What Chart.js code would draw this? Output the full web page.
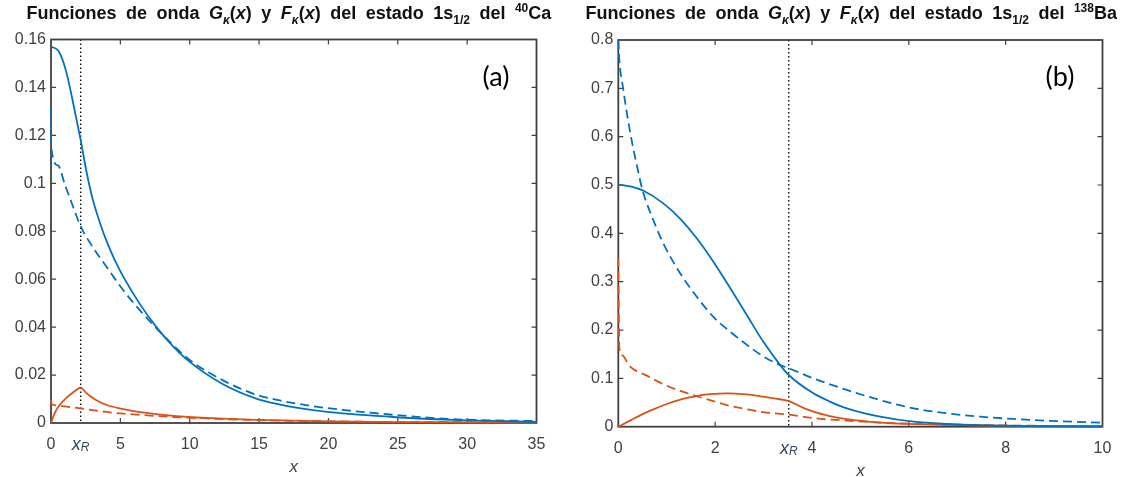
<!DOCTYPE html>
<html><head><meta charset="utf-8">
<script src="https://cdn.jsdelivr.net/npm/chart.js@4.4.1/dist/chart.umd.min.js"></script>
<style>
html,body{margin:0;padding:0;background:#fff;}
#wrap{position:relative;width:1143px;height:477px;overflow:hidden;background:#fff;}
canvas{position:absolute;top:0;}
#cA{left:0;} #cB{left:570px;}
.title{position:absolute;top:3px;font-family:"Liberation Sans",Arial,sans-serif;font-weight:bold;font-size:18px;white-space:nowrap;color:#111;word-spacing:4.5px;}
.title sub,.title sup{font-size:12px;line-height:0;}
</style></head>
<body><div id="wrap">
<canvas id="cA" width="570" height="477"></canvas>
<canvas id="cB" width="573" height="477"></canvas>
<div class="title" id="tA">Funciones de onda <i>G</i><sub><i>κ</i></sub>(<i>x</i>) y <i>F</i><sub><i>κ</i></sub>(<i>x</i>) del estado 1s<sub>1/2</sub> del <sup>40</sup>Ca</div>
<div class="title" id="tB">Funciones de onda <i>G</i><sub><i>κ</i></sub>(<i>x</i>) y <i>F</i><sub><i>κ</i></sub>(<i>x</i>) del estado 1s<sub>1/2</sub> del <sup>138</sup>Ba</div>
</div>
<script>
// ---------- Panel (a): 40Ca ----------
const caXR = 2.14;
const caXTicks = [0, 5, 10, 15, 20, 25, 30, 35];
const caYTicks = [0, 0.02, 0.04, 0.06, 0.08, 0.1, 0.12, 0.14, 0.16];
const caGSolidX = [0, 0.5, 0.8, 1.1, 1.4, 1.7, 2.14, 2.57, 3.0, 3.5, 4.0, 4.6, 5.2, 6.4, 7.6, 8.8, 10, 12.4, 14.8, 16.5, 17.9, 20.1, 24.9, 29, 35];
const caGSolidY = [0.157, 0.1555, 0.152, 0.1465, 0.139, 0.1305, 0.118, 0.1045, 0.0935, 0.0840, 0.0760, 0.0680, 0.0612, 0.0497, 0.0400, 0.0320, 0.0255, 0.0162, 0.0102, 0.0077, 0.0062, 0.0045, 0.0024, 0.0013, 0.0005];
const caGDashX = [0, 0.01, 0.5, 1.0, 1.5, 2.14, 3.0, 4.0, 5.2, 6.4, 7.6, 8.8, 10, 12.4, 14.8, 16.5, 17.9, 20.1, 24.9, 29, 35];
const caGDashY = [0.132, 0.1155, 0.1075, 0.0995, 0.0917, 0.082, 0.0735, 0.0652, 0.0555, 0.0471, 0.0395, 0.0325, 0.0263, 0.0178, 0.0118, 0.0094, 0.0079, 0.0061, 0.0033, 0.0016, 0.0008];
const caFSolidX = [0, 0.3, 0.65, 1.13, 1.61, 2.14, 2.5, 2.81, 3.3, 4.01, 5.21, 6.41, 8.81, 11.2, 14.8, 20, 25, 30, 35];
const caFSolidY = [0, 0.0045, 0.0077, 0.0106, 0.0128, 0.0148, 0.0128, 0.0113, 0.0094, 0.0075, 0.0058, 0.0045, 0.003, 0.0021, 0.0013, 0.0007, 0.0004, 0.0003, 0.0002];
const caFDashX = [0, 0.05, 0.5, 1, 2.14, 3, 4, 5, 6.4, 8.8, 11.2, 15, 20, 25, 30, 35];
const caFDashY = [0.0096, 0.0078, 0.0073, 0.0069, 0.0061, 0.0054, 0.0046, 0.004, 0.0034, 0.0025, 0.0019, 0.0012, 0.0007, 0.0004, 0.0003, 0.0002];

// ---------- Panel (b): 138Ba ----------
const baXR = 3.52;
const baXTicks = [0, 2, 4, 6, 8, 10];
const baYTicks = [0, 0.1, 0.2, 0.3, 0.4, 0.5, 0.6, 0.7, 0.8];
const baGSolidX = [0, 0.25, 0.52, 0.93, 1.28, 1.62, 1.96, 2.31, 2.66, 3.0, 3.34, 3.52, 4.03, 4.37, 4.72, 5.41, 6.1, 6.79, 7.48, 8.5, 10];
const baGSolidY = [0.501, 0.497, 0.488, 0.462, 0.430, 0.390, 0.342, 0.287, 0.230, 0.175, 0.128, 0.107, 0.069, 0.052, 0.038, 0.0207, 0.0103, 0.0056, 0.003, 0.0012, 0.0004];
const baGDashX = [0, 0.02, 0.1, 0.2, 0.3, 0.4, 0.5, 0.59, 0.76, 0.93, 1.28, 1.62, 1.96, 2.31, 2.66, 3.0, 3.34, 3.52, 4.03, 4.72, 5.41, 6.1, 6.79, 7.48, 8.17, 8.86, 10];
const baGDashY = [0.8, 0.76, 0.70, 0.635, 0.58, 0.533, 0.489, 0.462, 0.418, 0.379, 0.317, 0.269, 0.2275, 0.1965, 0.169, 0.145, 0.1276, 0.121, 0.100, 0.076, 0.055, 0.038, 0.0277, 0.0207, 0.016, 0.0124, 0.0083];
const baFSolidX = [0, 0.25, 0.5, 0.75, 1.0, 1.25, 1.5, 1.75, 2.0, 2.25, 2.5, 2.75, 3.0, 3.25, 3.52, 3.8, 4.03, 4.37, 4.72, 5.41, 6.1, 6.8, 7.5, 8.5, 10];
const baFSolidY = [0, 0.013, 0.026, 0.037, 0.047, 0.055, 0.061, 0.066, 0.068, 0.069, 0.068, 0.066, 0.062, 0.058, 0.053, 0.040, 0.031, 0.022, 0.0155, 0.0085, 0.0055, 0.0037, 0.0024, 0.0014, 0.0008];
const baFDashX = [0, 0.02, 0.08, 0.24, 0.59, 0.93, 1.28, 1.62, 1.96, 2.31, 2.66, 3.0, 3.52, 4.03, 4.72, 5.41, 6.1, 7, 8, 9, 10];
const baFDashY = [0.35, 0.165, 0.148, 0.125, 0.1056, 0.088, 0.074, 0.063, 0.053, 0.043, 0.036, 0.030, 0.025, 0.0178, 0.0124, 0.0085, 0.006, 0.004, 0.0025, 0.0017, 0.0012];

const BLUE = '#0072BD', ORANGE = '#D95319', AXIS = '#404040';
const FONT = '"Liberation Sans", Arial, sans-serif';
Chart.defaults.font.family = FONT;

function pts(xs, ys) { return xs.map((x, i) => ({ x: x, y: ys[i] })); }
function ds(xs, ys, color, dashed) {
  return { data: pts(xs, ys), borderColor: color, backgroundColor: color, borderWidth: 1.8,
    borderDash: dashed ? [9, 5] : [], pointRadius: 0, pointHoverRadius: 0, fill: false,
    showLine: true, cubicInterpolationMode: 'monotone', clip: false };
}

function framePlugin(p) {
  return {
    id: 'frame' + p.key,
    beforeDatasetsDraw(chart) {
      const { ctx, chartArea: a, scales: { x, y } } = chart;
      ctx.save();
      const xr = x.getPixelForValue(p.xR);
      ctx.strokeStyle = '#000'; ctx.lineWidth = 1.3; ctx.setLineDash([1.5, 2.5]);
      ctx.beginPath(); ctx.moveTo(xr, a.top); ctx.lineTo(xr, a.bottom); ctx.stroke();
      ctx.setLineDash([]);
      ctx.strokeStyle = AXIS; ctx.lineWidth = 1.2;
      ctx.beginPath();
      p.xTicks.forEach(v => {
        const px = x.getPixelForValue(v);
        if (px <= a.left + 1 || px >= a.right - 1) return;
        ctx.moveTo(px, a.bottom); ctx.lineTo(px, a.bottom - 5);
        ctx.moveTo(px, a.top); ctx.lineTo(px, a.top + 5);
      });
      p.yTicks.forEach(v => {
        const py = y.getPixelForValue(v);
        if (py <= a.top + 1 || py >= a.bottom - 1) return;
        ctx.moveTo(a.left, py); ctx.lineTo(a.left + 5, py);
        ctx.moveTo(a.right, py); ctx.lineTo(a.right - 5, py);
      });
      ctx.stroke();
      ctx.lineWidth = 1.8;
      ctx.strokeRect(a.left, a.top, a.right - a.left, a.bottom - a.top);
      ctx.restore();
    },
    afterDraw(chart) {
      const { ctx, chartArea: a, scales: { x } } = chart;
      ctx.save();
      const xr = x.getPixelForValue(p.xR);
      const base = a.bottom + 27;
      ctx.fillStyle = '#2f4560';
      ctx.font = 'italic 18px ' + FONT;
      const wx = ctx.measureText('x').width;
      ctx.font = 'italic 12px ' + FONT;
      const wr = ctx.measureText('R').width;
      const x0 = xr - (wx + wr) / 2;
      ctx.textBaseline = 'alphabetic'; ctx.textAlign = 'left';
      ctx.font = 'italic 18px ' + FONT;
      ctx.fillText('x', x0, base);
      ctx.font = 'italic 12px ' + FONT;
      ctx.fillText('R', x0 + wx, base + 1);
      ctx.fillStyle = AXIS;
      ctx.font = 'italic 17px ' + FONT;
      ctx.textAlign = 'center';
      ctx.fillText('x', (a.left + a.right) / 2, a.bottom + 49);
      ctx.fillStyle = '#000';
      ctx.font = '27px Lato, "Open Sans", sans-serif';
      ctx.textBaseline = 'middle';
      ctx.fillText(p.label, p.labelX, p.labelY);
      ctx.restore();
    }
  };
}

function makeChart(id, p) {
  return new Chart(document.getElementById(id), {
    type: 'scatter',
    data: { datasets: p.datasets },
    options: {
      responsive: false, animation: false, devicePixelRatio: 1,
      layout: { padding: { left: 0, right: p.padRight, top: p.padTop, bottom: 0 } },
      plugins: { legend: { display: false }, tooltip: { enabled: false }, title: { display: false } },
      scales: {
        x: {
          type: 'linear', min: p.xMin, max: p.xMax,
          grid: { display: false, drawTicks: false }, border: { display: false },
          afterBuildTicks: s => { s.ticks = p.xTicks.map(v => ({ value: v })); },
          afterFit: s => { s.height = p.xHeight; s.paddingLeft = 0; s.paddingRight = 0; },
          ticks: { color: AXIS, font: { size: 16 }, padding: 12, maxRotation: 0, autoSkip: false,
            callback: v => String(+(+v).toFixed(4)) }
        },
        y: {
          type: 'linear', min: 0, max: p.yMax,
          grid: { display: false, drawTicks: false }, border: { display: false },
          afterBuildTicks: s => { s.ticks = p.yTicks.map(v => ({ value: v })); },
          afterFit: s => { s.width = p.yWidth; s.paddingTop = 0; s.paddingBottom = 0; },
          ticks: { color: AXIS, font: { size: 16 }, padding: 5,
            callback: v => String(+(+v).toFixed(4)) }
        }
      }
    },
    plugins: [framePlugin(p)]
  });
}

makeChart('cA', {
  key: 'A', xMin: 0, xMax: 35, yMax: 0.16, xTicks: caXTicks, yTicks: caYTicks, xR: caXR,
  padRight: 33.5, padTop: 39.5, yWidth: 51, xHeight: 54,
  label: '(a)', labelX: 496, labelY: 77,
  datasets: [
    ds(caGSolidX, caGSolidY, BLUE, false),
    ds(caGDashX, caGDashY, BLUE, true),
    ds(caFSolidX, caFSolidY, ORANGE, false),
    ds(caFDashX, caFDashY, ORANGE, true)
  ]
});
makeChart('cB', {
  key: 'B', xMin: 0, xMax: 10, yMax: 0.8, xTicks: baXTicks, yTicks: baYTicks, xR: baXR,
  padRight: 40.5, padTop: 40, yWidth: 48.3, xHeight: 50.3,
  label: '(b)', labelX: 490, labelY: 77,
  datasets: [
    ds(baGSolidX, baGSolidY, BLUE, false),
    ds(baGDashX, baGDashY, BLUE, true),
    ds(baFSolidX, baFSolidY, ORANGE, false),
    ds(baFDashX, baFDashY, ORANGE, true)
  ]
});

function centerTitle(id, cx) {
  const el = document.getElementById(id);
  el.style.left = (cx - el.offsetWidth / 2) + 'px';
}
centerTitle('tA', 289);
centerTitle('tB', 851);
</script>
</body></html>
